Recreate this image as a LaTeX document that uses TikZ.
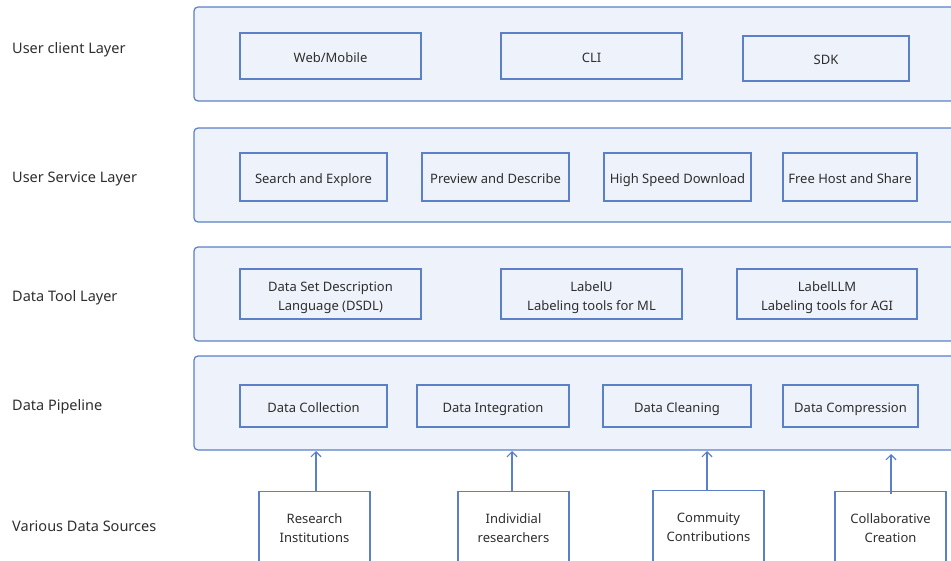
\documentclass[tikz,border=0pt]{standalone}
\usepackage{fontspec}
\setmainfont{Noto Sans}
\usetikzlibrary{arrows.meta}
\definecolor{lineblue}{HTML}{5B80C8}
\definecolor{layerfill}{HTML}{EEF2FB}
\definecolor{txt}{HTML}{2E2E2E}
\newcommand\twoline[3]{\raisebox{#1}[0pt][0pt]{\begin{tabular}{@{}c@{}}#2\\#3\end{tabular}}}
\tikzset{
  layerbox/.style={draw=lineblue, line width=1.2pt, fill=layerfill, rounded corners=4pt},
  itembox/.style={draw=lineblue, line width=1.2pt, fill=none, text=txt, font=\fontsize{13}{19}\selectfont},
  oneline/.style={text height=13.5pt, text depth=0.7pt},
  srcbox/.style={draw=lineblue, line width=1.2pt, fill=white, text=txt, font=\fontsize{13}{19}\selectfont},
  layerlabel/.style={anchor=west, text=txt, font=\fontsize{14.5}{17}\selectfont, inner sep=0pt},
  feed/.style={draw=lineblue, line width=1.2pt, -{Straight Barb[length=5pt,width=10pt]}}
}
\begin{document}
\begin{tikzpicture}[x=1pt,y=-1pt]
\useasboundingbox (0,0) rectangle (951,561);
\clip (0,0) rectangle (951,561);
% layer labels
\node[layerlabel] (l1) at (12,49.5) {User client Layer};
\node[layerlabel] (l2) at (12,179) {User Service Layer};
\node[layerlabel] (l3) at (12,298) {Data Tool Layer};
\node[layerlabel] (l4) at (12,407) {Data Pipeline};
\node[layerlabel] (l5) at (12,526.5) {Various Data Sources};
% layer boxes
\draw[layerbox] (194,7) rectangle (965,101);
\draw[layerbox] (194,128) rectangle (965,222);
\draw[layerbox] (194,247) rectangle (965,341);
\draw[layerbox] (194,356) rectangle (965,450);
% layer 1
\node[itembox, oneline, minimum width=181pt, minimum height=46pt] (web) at (330.5,56) {Web/Mobile};
\node[itembox, oneline, minimum width=181pt, minimum height=46pt] (cli) at (591.5,56) {CLI};
\node[itembox, oneline, minimum width=166pt, minimum height=45pt] (sdk) at (826,58.5) {SDK};
% layer 2
\node[itembox, oneline, minimum width=147pt, minimum height=48pt] (search) at (313.5,177) {Search and Explore};
\node[itembox, oneline, minimum width=147pt, minimum height=48pt] (preview) at (495.5,177) {Preview and Describe};
\node[itembox, oneline, minimum width=147pt, minimum height=48pt] (download) at (677.5,177) {High Speed Download};
\node[itembox, oneline, minimum width=134pt, minimum height=48pt] (host) at (850,177) {Free Host and Share};
% layer 3
\node[itembox, minimum width=181pt, minimum height=50pt] (dsdl) at (330.5,294) {\twoline{-6.3pt}{Data Set Description}{Language (DSDL)}};
\node[itembox, minimum width=181pt, minimum height=50pt] (labelu) at (591.5,294) {\twoline{-6.3pt}{LabelU}{Labeling tools for ML}};
\node[itembox, minimum width=180pt, minimum height=50pt] (labelllm) at (827,294) {\twoline{-6.3pt}{LabelLLM}{Labeling tools for AGI}};
% layer 4
\node[itembox, oneline, minimum width=147pt, minimum height=42pt] (collect) at (313.5,406) {Data Collection};
\node[itembox, oneline, minimum width=152pt, minimum height=42pt] (integr) at (493,406) {Data Integration};
\node[itembox, oneline, minimum width=148pt, minimum height=42pt] (clean) at (677,406) {Data Cleaning};
\node[itembox, oneline, minimum width=135pt, minimum height=42pt] (compr) at (850.5,406) {Data Compression};
% sources
\node[srcbox, minimum width=111pt, minimum height=76pt, anchor=north] (res) at (314.5,491) {\twoline{-2.3pt}{Research}{Institutions}};
\node[srcbox, minimum width=111pt, minimum height=76pt, anchor=north] (ind) at (513.5,491) {\twoline{-2.3pt}{Individial}{researchers}};
\node[srcbox, minimum width=111pt, minimum height=76pt, anchor=north] (com) at (708.5,490) {\twoline{-2.3pt}{Commuity}{Contributions}};
\node[srcbox, minimum width=111pt, minimum height=76pt, anchor=north] (cre) at (890.5,491) {\twoline{-2.3pt}{Collaborative}{Creation}};
% arrows
\coordinate (a1) at (316,451);
\coordinate (a2) at (512,451);
\coordinate (a3) at (707,451);
\coordinate (a4) at (891,454);
\draw[feed] (res.north -| a1) -- (a1);
\draw[feed] (ind.north -| a2) -- (a2);
\draw[feed] (com.north -| a3) -- (a3);
\draw[feed] ([yshift=-3pt]cre.north -| a4) -- (a4);
\end{tikzpicture}
\end{document}
